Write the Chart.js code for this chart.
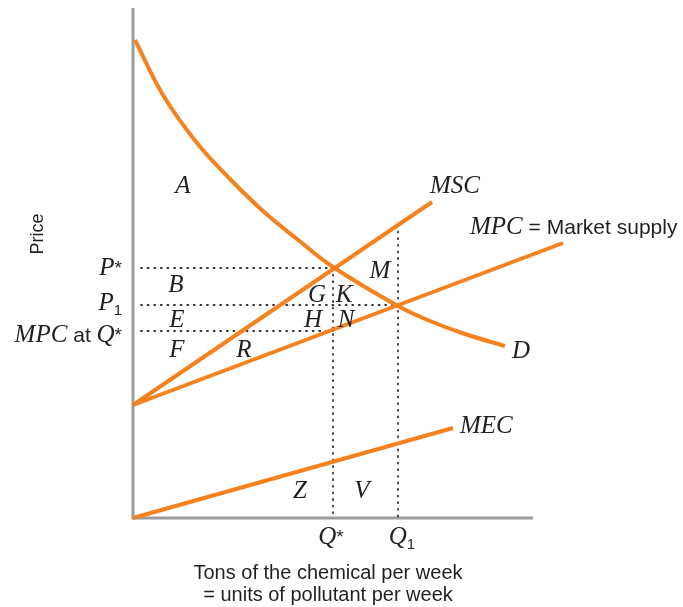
<!DOCTYPE html>
<html>
<head>
<meta charset="utf-8">
<script src="https://cdn.jsdelivr.net/npm/chart.js@4"></script>
<style>
  body { margin: 0; background: #fff; }
  canvas { display: block; }
</style>
</head>
<body>
<canvas id="grafico" width="683" height="607"></canvas>
<script>
// curvas (quantidade, preço)
const demandaQ = [2, 30, 64, 97, 130, 164, 200, 265, 297, 332, 372];
const demandaP = [478, 423, 375, 339, 307, 279, 251, 212, 197, 184, 172];
const mscQ = [0, 299];
const mscP = [113, 316];
const mpcQ = [0, 430];
const mpcP = [113, 275];
const mecQ = [0, 320];
const mecP = [0, 90];

// níveis marcados
const qEstrela = 200;
const q1 = 265;
const pEstrela = 250;
const p1 = 213;
const mpcEmQ = 187;
const mscEmQ1 = 293;

const eixoXMax = 400;
const eixoYMax = 510;

const LARANJA = '#f5821f';
const SERIF = '"Liberation Serif", "DejaVu Serif", serif';
const SANS = '"Liberation Sans", Arial, sans-serif';

function pares(xs, ys) {
    return xs.map((x, i) => ({ x: x, y: ys[i] }));
}

function curva(dados, extra) {
    return Object.assign({
        data: dados,
        showLine: true,
        pointRadius: 0,
        borderColor: LARANJA,
        borderWidth: 4,
        fill: false,
        clip: false
    }, extra || {});
}

function pontilhado(dados) {
    return {
        data: dados,
        showLine: true,
        pointRadius: 0,
        borderColor: '#333',
        borderWidth: 1.8,
        borderDash: [1, 5.6],
        borderCapStyle: 'round',
        fill: false,
        clip: false
    };
}

// texto com trechos de fontes diferentes
function textoRico(c, trechos, x, y, alinhar) {
    let total = 0;
    for (const t of trechos) {
        c.font = t.fonte;
        total += c.measureText(t.texto).width;
    }
    let inicio = x;
    if (alinhar === 'right') inicio = x - total;
    if (alinhar === 'center') inicio = x - total / 2;
    c.textAlign = 'left';
    c.textBaseline = 'alphabetic';
    for (const t of trechos) {
        c.font = t.fonte;
        c.fillText(t.texto, inicio, y + (t.dy || 0));
        inicio += c.measureText(t.texto).width;
    }
}

const it = (s) => ({ texto: s, fonte: 'italic 25px ' + SERIF });
const sans = (s) => ({ texto: s, fonte: '21px ' + SANS });
const estrela = () => ({ texto: '*', fonte: '19px ' + SANS, dy: -1 });
const sub = (s) => ({ texto: s, fonte: '15px ' + SANS, dy: 5 });

const rotulos = {
    id: 'rotulos',
    afterDatasetsDraw(chart) {
        const c = chart.ctx;
        const sx = chart.scales.x;
        const sy = chart.scales.y;
        const px = (v) => sx.getPixelForValue(v);
        const py = (v) => sy.getPixelForValue(v);
        c.save();
        c.fillStyle = '#231f20';

        // letras das áreas
        const areas = [
            ['A', 50, 325], ['B', 43, 226], ['E', 44, 191], ['F', 44, 161],
            ['R', 111, 161], ['G', 184, 216], ['K', 211, 216], ['H', 180, 191],
            ['N', 213, 191], ['M', 247, 240], ['Z', 167, 20], ['V', 229, 20]
        ];
        for (const a of areas) {
            textoRico(c, [it(a[0])], px(a[1]), py(a[2]), 'center');
        }

        // nomes das curvas
        textoRico(c, [it('MSC')], px(297), py(325), 'left');
        textoRico(c, [it('MPC'), sans(' = Market supply')], px(337), py(284), 'left');
        textoRico(c, [it('D')], px(379), py(160), 'left');
        textoRico(c, [it('MEC')], px(327), py(85), 'left');

        // marcas no eixo vertical
        const xr = px(0) - 11;
        textoRico(c, [it('P'), estrela()], xr, py(pEstrela) + 7, 'right');
        textoRico(c, [it('P'), sub('1')], xr, py(p1) + 5, 'right');
        textoRico(c, [it('MPC'), sans(' at '), it('Q'), estrela()], xr, py(mpcEmQ) + 11, 'right');

        // marcas no eixo horizontal
        textoRico(c, [it('Q'), estrela()], px(qEstrela) - 2, py(0) + 26, 'center');
        textoRico(c, [it('Q'), sub('1')], px(q1) + 4, py(0) + 26, 'center');

        // títulos dos eixos
        c.font = '20px ' + SANS;
        c.textAlign = 'center';
        c.fillText('Tons of the chemical per week', px(195), 579);
        c.fillText('= units of pollutant per week', px(195), 601);

        c.translate(43, 234);
        c.rotate(-Math.PI / 2);
        c.font = '18px ' + SANS;
        c.fillText('Price', 0, 0);
        c.restore();
    }
};

new Chart(document.getElementById('grafico'), {
    type: 'scatter',
    data: {
        datasets: [
            curva(pares(demandaQ, demandaP), { tension: 0.4 }),
            curva(pares(mscQ, mscP)),
            curva(pares(mpcQ, mpcP)),
            curva(pares(mecQ, mecP)),
            pontilhado([{ x: 8, y: pEstrela }, { x: qEstrela, y: pEstrela }]),
            pontilhado([{ x: 8, y: p1 }, { x: q1, y: p1 }]),
            pontilhado([{ x: 8, y: mpcEmQ }, { x: qEstrela, y: mpcEmQ }]),
            pontilhado([{ x: qEstrela, y: pEstrela }, { x: qEstrela, y: 0 }]),
            pontilhado([{ x: q1, y: mscEmQ1 }, { x: q1, y: 0 }]),
            // eixos
            {
                data: [{ x: 0, y: eixoYMax }, { x: 0, y: 0 }, { x: eixoXMax, y: 0 }],
                showLine: true,
                pointRadius: 0,
                borderColor: '#9c9c9e',
                borderWidth: 3,
                borderJoinStyle: 'miter',
                fill: false,
                clip: false
            }
        ]
    },
    options: {
        responsive: false,
        devicePixelRatio: 1,
        animation: false,
        events: [],
        layout: { padding: { left: 133, right: 120, top: 8, bottom: 89 } },
        plugins: {
            legend: { display: false },
            tooltip: { enabled: false }
        },
        scales: {
            x: { type: 'linear', min: 0, max: 430, display: false },
            y: { type: 'linear', min: 0, max: eixoYMax, display: false }
        }
    },
    plugins: [rotulos]
});
</script>
</body>
</html>
